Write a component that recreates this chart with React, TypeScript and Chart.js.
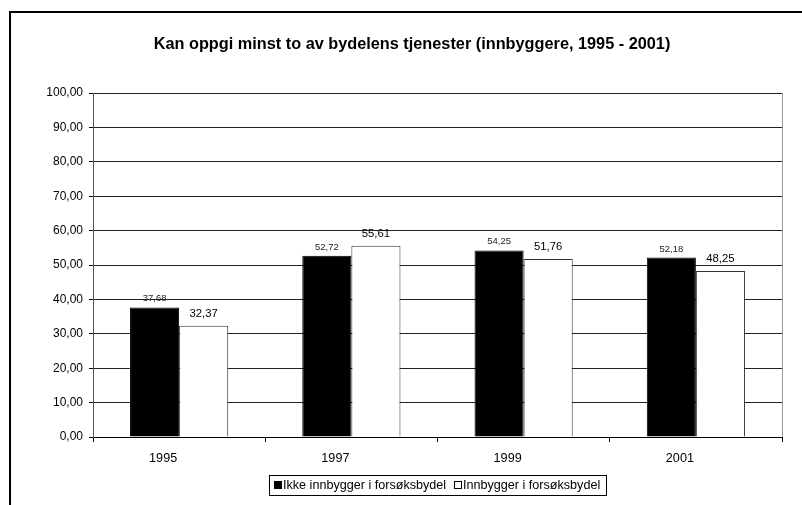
import React, { useEffect, useRef } from "react";
import { Chart, registerables } from "chart.js";

Chart.register(...registerables);

const categories = ["1995", "1997", "1999", "2001"];
const seriesNames = ["Ikke innbygger i forsøksbydel", "Innbygger i forsøksbydel"];
const ikkeInnbygger = [37.68, 52.72, 54.25, 52.18];
const innbygger = [32.37, 55.61, 51.76, 48.25];
const titleText = "Kan oppgi minst to av bydelens tjenester (innbyggere, 1995 - 2001)";
const yMin = 0;
const yMax = 100;
const yStep = 10;

const FONT = "'Liberation Sans', Arial, Helvetica, sans-serif";
const fmt = (v: number) => v.toFixed(2).replace(".", ",");

const decorPlugin = {
  id: "decor",
  beforeDraw(chart: any) {
    const ctx = chart.ctx;
    ctx.save();
    ctx.fillStyle = "#ffffff";
    ctx.fillRect(0, 0, chart.width, chart.height);
    ctx.restore();
  },
  afterDraw(chart: any) {
    const ctx = chart.ctx;
    const area = chart.chartArea;
    ctx.save();
    // outer frame (top & left)
    ctx.strokeStyle = "#000";
    ctx.lineWidth = 2;
    ctx.beginPath();
    ctx.moveTo(10, chart.height);
    ctx.lineTo(10, 12);
    ctx.lineTo(chart.width, 12);
    ctx.stroke();
    // right plot border
    ctx.strokeStyle = "#999";
    ctx.lineWidth = 1;
    ctx.beginPath();
    ctx.moveTo(Math.round(area.right) + 0.5, area.top);
    ctx.lineTo(Math.round(area.right) + 0.5, area.bottom);
    ctx.stroke();
    // title
    ctx.fillStyle = "#000";
    ctx.font = `bold 16.3px ${FONT}`;
    ctx.textAlign = "center";
    ctx.textBaseline = "alphabetic";
    ctx.fillText(titleText, 412, 49);
    // data labels
    const sizes = [9.5, 11.3];
    const gaps = [6, 9];
    const colors = ["#222", "#000"];
    chart.data.datasets.forEach((ds: any, di: number) => {
      const meta = chart.getDatasetMeta(di);
      ctx.font = `${sizes[di]}px ${FONT}`;
      ctx.fillStyle = colors[di];
      meta.data.forEach((el: any, i: number) => {
        ctx.fillText(fmt(ds.data[i]), el.x, el.y - gaps[di]);
      });
    });
    // legend
    const lx = 269.5, ly = 475.5, lw = 337, lh = 20;
    ctx.strokeStyle = "#000";
    ctx.lineWidth = 1;
    ctx.strokeRect(lx, ly, lw, lh);
    ctx.font = `12.6px ${FONT}`;
    ctx.textAlign = "left";
    ctx.textBaseline = "middle";
    ctx.fillStyle = "#000";
    ctx.fillRect(274, 481, 8, 8);
    ctx.fillText(seriesNames[0], 283, 486);
    ctx.fillStyle = "#fff";
    ctx.fillRect(454, 481, 8, 8);
    ctx.strokeRect(454.5, 481.5, 7, 7);
    ctx.fillStyle = "#000";
    ctx.fillText(seriesNames[1], 463, 486);
    ctx.restore();
  },
};

export default function App() {
  const ref = useRef<HTMLCanvasElement | null>(null);
  useEffect(() => {
    if (!ref.current) return;
    const chart = new Chart(ref.current, {
      type: "bar",
      data: {
        labels: categories,
        datasets: [
          {
            label: seriesNames[0],
            data: ikkeInnbygger,
            backgroundColor: "#000",
            borderColor: "#000",
            borderWidth: 1,
            categoryPercentage: 0.57,
            barPercentage: 1,
          },
          {
            label: seriesNames[1],
            data: innbygger,
            backgroundColor: "#fff",
            borderColor: "#333",
            borderWidth: 1,
            categoryPercentage: 0.57,
            barPercentage: 1,
          },
        ],
      },
      options: {
        responsive: false,
        animation: false,
        devicePixelRatio: 1,
        layout: { padding: { top: 93, right: 20, bottom: 0, left: 0 } },
        plugins: {
          legend: { display: false },
          title: { display: false },
          tooltip: { enabled: false },
        },
        scales: {
          x: {
            type: "category",
            offset: true,
            grid: {
              offset: true,
              drawOnChartArea: false,
              drawTicks: true,
              tickLength: 5,
              tickColor: "#000",
            },
            border: { display: true, color: "#000", width: 1 },
            ticks: {
              color: "#000",
              font: { family: FONT, size: 12.6 },
              padding: 9,
              labelOffset: -16,
              maxRotation: 0,
            },
            afterFit(scale: any) {
              scale.height = 68;
            },
          },
          y: {
            min: yMin,
            max: yMax,
            ticks: {
              stepSize: yStep,
              color: "#000",
              font: { family: FONT, size: 12 },
              padding: 6,
              callback: (v: any) => fmt(Number(v)),
            },
            grid: {
              color: "#222",
              drawTicks: true,
              tickLength: 4,
              tickColor: "#000",
            },
            border: { display: true, color: "#555", width: 1 },
            afterFit(scale: any) {
              scale.width = 93;
            },
          },
        },
      },
      plugins: [decorPlugin],
    } as any);
    return () => chart.destroy();
  }, []);
  return (
    <div style={{ position: "absolute", left: 0, top: 0, width: 802, height: 505 }}>
      <canvas ref={ref} width={802} height={505} style={{ display: "block", width: 802, height: 505 }} />
    </div>
  );
}
